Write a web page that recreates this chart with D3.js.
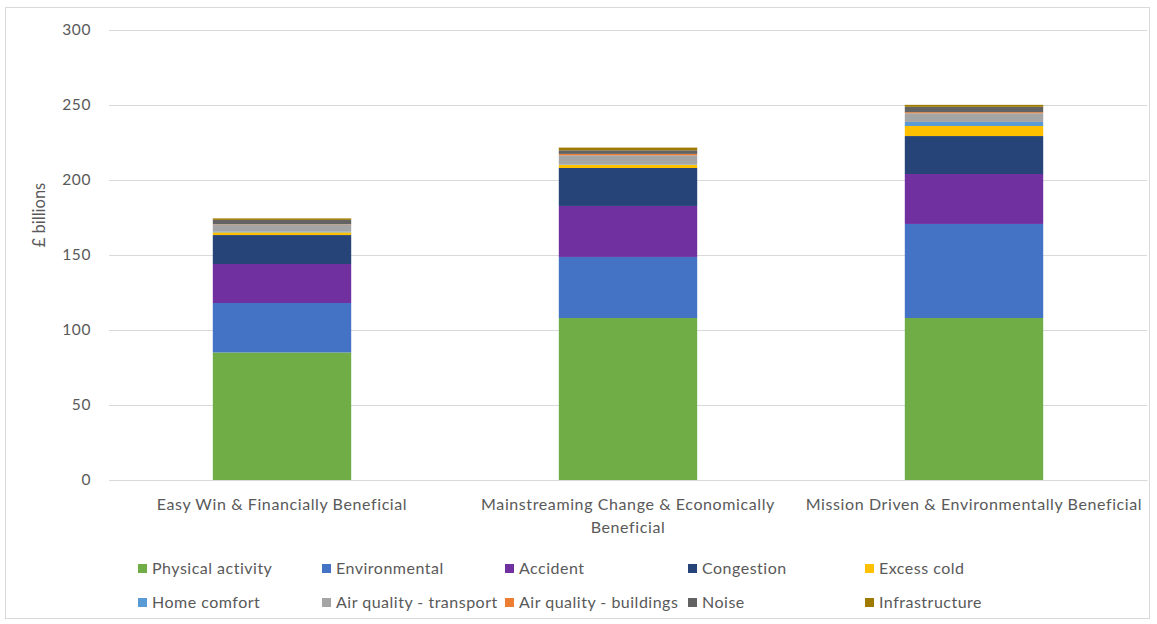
<!DOCTYPE html>
<html><head><meta charset="utf-8">
<script src="https://cdn.jsdelivr.net/npm/d3@7"></script>
<style>body{margin:0;background:#fff;} text{font-family:Lato,"Open Sans",sans-serif;fill:#595959;}</style>
</head><body>
<svg id="c" width="1157" height="624"></svg>
<script>
const categories = ["Easy Win & Financially Beneficial", "Mainstreaming Change & Economically Beneficial", "Mission Driven & Environmentally Beneficial"];
const categoryLines = [["Easy Win & Financially Beneficial"], ["Mainstreaming Change & Economically", "Beneficial"], ["Mission Driven & Environmentally Beneficial"]];
const seriesNames = ["Physical activity", "Environmental", "Accident", "Congestion", "Excess cold", "Home comfort", "Air quality - transport", "Air quality - buildings", "Noise", "Infrastructure"];
const seriesColors = ["#70AD47", "#4472C4", "#7030A0", "#264478", "#FFC000", "#5B9BD5", "#A5A5A5", "#ED7D31", "#636363", "#9E7B00"];
const physicalActivity = [85, 108, 108];
const environmental = [33, 40.7, 62.7];
const accident = [26, 34, 33.3];
const congestion = [19.3, 25.3, 25.3];
const excessCold = [1.8, 2.2, 6.7];
const homeComfort = [0.5, 0.3, 2.7];
const airQualityTransport = [4.7, 6, 5.8];
const airQualityBuildings = [0.2, 0.9, 0.7];
const noise = [2.9, 2.4, 3.6];
const infrastructure = [1, 1.8, 1.3];
const yTicks = [0, 50, 100, 150, 200, 250, 300];
const yTitle = "£ billions";

(function () {
const seriesValues = [physicalActivity, environmental, accident, congestion, excessCold, homeComfort, airQualityTransport, airQualityBuildings, noise, infrastructure];
const table = categories.map((c, i) => {
  const row = {cat: c};
  seriesNames.forEach((s, j) => row[s] = seriesValues[j][i]);
  return row;
});

const svg = d3.select("#c");
svg.append("rect").attr("x", 5.5).attr("y", 7.5).attr("width", 1144).attr("height", 611)
  .attr("fill", "#fff").attr("stroke", "#d9d9d9").attr("stroke-width", 1);

const pL = 109, pR = 1147, pT = 30, pB = 480;
const x = d3.scaleBand().domain(categories).range([pL, pR]).paddingInner(0.6).paddingOuter(0.3);
const y = d3.scaleLinear().domain([0, 300]).range([pB, pT]);

const yAxis = d3.axisLeft(y).tickValues(yTicks).tickSize(-(pR - pL)).tickPadding(18);
const gy = svg.append("g").attr("transform", `translate(${pL},0)`).call(yAxis);
gy.select(".domain").remove();
gy.selectAll(".tick line").attr("stroke", "#d9d9d9").attr("stroke-width", 1);
gy.selectAll(".tick text").attr("font-size", 15.5).style("fill", "#595959").style("font-family", "Lato, 'Open Sans', sans-serif").style("letter-spacing", "0.6px");

svg.append("text").attr("transform", `translate(45,215) rotate(-90)`)
  .attr("text-anchor", "middle").attr("font-size", 16.5).text(yTitle);

const stack = d3.stack().keys(seriesNames)(table);
svg.append("g").selectAll("g").data(stack).join("g")
  .attr("fill", (d, i) => seriesColors[i])
  .selectAll("rect").data(d => d).join("rect")
  .attr("x", d => x(d.data.cat)).attr("width", x.bandwidth())
  .attr("y", d => y(d[1])).attr("height", d => y(d[0]) - y(d[1]));

const xAxis = d3.axisBottom(x).tickSize(0).tickFormat("");
const gx = svg.append("g").attr("transform", `translate(0,${pB})`).call(xAxis);
gx.select(".domain").attr("stroke", "#d9d9d9");
categories.forEach((c, i) => {
  const cx = x(c) + x.bandwidth() / 2;
  const t = svg.append("text").attr("text-anchor", "middle").attr("font-size", 16).style("letter-spacing", "0.6px")
    .attr("x", cx).attr("y", 510);
  categoryLines[i].forEach((ln, k) => t.append("tspan").attr("x", cx).attr("dy", k === 0 ? 0 : 23).text(ln));
});

const legX = [138, 322, 505, 688, 865], legY = [569, 603];
const lg = svg.append("g");
seriesNames.forEach((s, i) => {
  const cx = legX[i % 5], cy = legY[Math.floor(i / 5)];
  lg.append("rect").attr("x", cx).attr("y", cy - 5).attr("width", 9).attr("height", 9).attr("fill", seriesColors[i]);
  lg.append("text").attr("x", cx + 14).attr("y", cy + 5).attr("font-size", 16).style("letter-spacing", "0.5px").text(s);
});
})();
</script>
</body></html>
